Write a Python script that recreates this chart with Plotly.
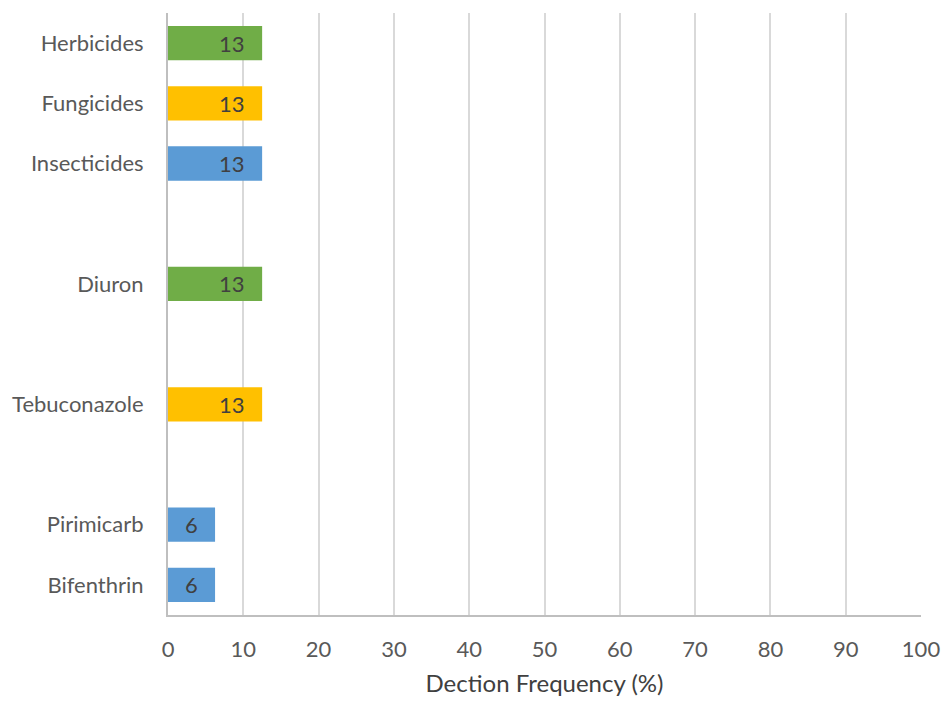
import plotly.graph_objects as go

categories = ["Herbicides", "Fungicides", "Insecticides", " ", "Diuron", "  ",
              "Tebuconazole", "   ", "Pirimicarb", "Bifenthrin"]
values = [12.5, 12.5, 12.5, None, 12.5, None, 12.5, None, 6.25, 6.25]
labels = ["13", "13", "13", "", "13", "", "13", "", "6", "6"]
colors = ["#70AD47", "#FFC000", "#5B9BD5", "#FFFFFF", "#70AD47", "#FFFFFF",
          "#FFC000", "#FFFFFF", "#5B9BD5", "#5B9BD5"]
x_ticks = [0, 10, 20, 30, 40, 50, 60, 70, 80, 90, 100]
x_title = "Dection Frequency (%)"

FONT = "Lato, Open Sans, sans-serif"

fig = go.Figure()
fig.add_trace(go.Bar(
    y=categories, x=values, orientation="h",
    marker=dict(color=colors, line=dict(width=0)),
    hoverinfo="skip",
))

for c, v, t in zip(categories, values, labels):
    if v is None:
        continue
    fig.add_annotation(x=v, y=c, text=t, showarrow=False, xanchor="right",
                       xshift=-15, font=dict(family=FONT, size=22, color="#404040"))

fig.update_layout(
    width=941, height=702,
    margin=dict(l=168, r=20, t=13, b=87),
    paper_bgcolor="white", plot_bgcolor="white",
    bargap=0.43,
    showlegend=False,
    font=dict(family=FONT, size=22, color="#595959"),
)
fig.update_yaxes(
    type="category", categoryorder="array", categoryarray=categories[::-1],
    automargin=False,
    showgrid=False, showline=True, linecolor="#BFBFBF", linewidth=2,
    ticks="", ticklabelstandoff=18,
    tickfont=dict(family=FONT, size=22, color="#595959"),
)
fig.update_xaxes(
    range=[0, 100], tickvals=x_ticks, automargin=False,
    showgrid=True, gridcolor="#D9D9D9", gridwidth=2,
    showline=True, linecolor="#BFBFBF", linewidth=2, zeroline=False, ticks="",
    ticklabelstandoff=14,
    tickfont=dict(family=FONT, size=22, color="#595959"),
    title=dict(text=x_title, font=dict(family=FONT, size=24, color="#404040"), standoff=14),
)

fig.write_html(
    "out.html",
    config={"displayModeBar": False},
    post_script=("document.body.style.margin='0';"
                 "document.body.style.overflow='hidden';"
                 "document.documentElement.style.overflow='hidden';"),
)
